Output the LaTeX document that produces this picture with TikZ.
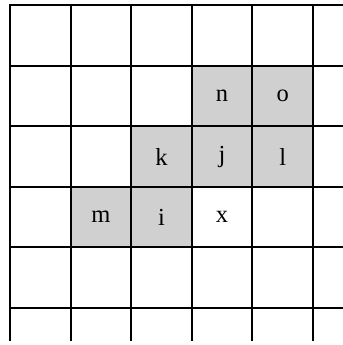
\documentclass[tikz,border=0pt]{standalone}
\usepackage{fontspec}
\setmainfont{Liberation Serif}
\usepackage{tikz}
\definecolor{cellgray}{HTML}{D0D0D0}

\begin{document}
\begin{tikzpicture}[x=1cm,y=-1cm,
  gridline/.style={line width=.9pt,line cap=rect},
  letter/.style={font=\fontsize{11.5}{13}\selectfont}]
 \useasboundingbox (-0.165,-0.083) rectangle (5.48,5.61);
 \foreach \c/\r in {3/1,4/1,2/2,3/2,4/2,1/3,2/3}
   \fill[cellgray] (\c,\r) rectangle ++(1,1);
 \foreach \r in {0,...,5}
   \draw[gridline] (0,\r)--(5.6,\r);
 \foreach \c in {0,...,5}
   \draw[gridline] (\c,0)--(\c,5.52);
 \foreach \c/\r/\t in {3/1/n,4/1/o,2/2/k,3/2/j,4/2/l,1/3/m,2/3/i,3/3/x}
   \node[letter] (lbl-\t) at (\c+.5,\r+.5) {\t};
\end{tikzpicture}
\end{document}
